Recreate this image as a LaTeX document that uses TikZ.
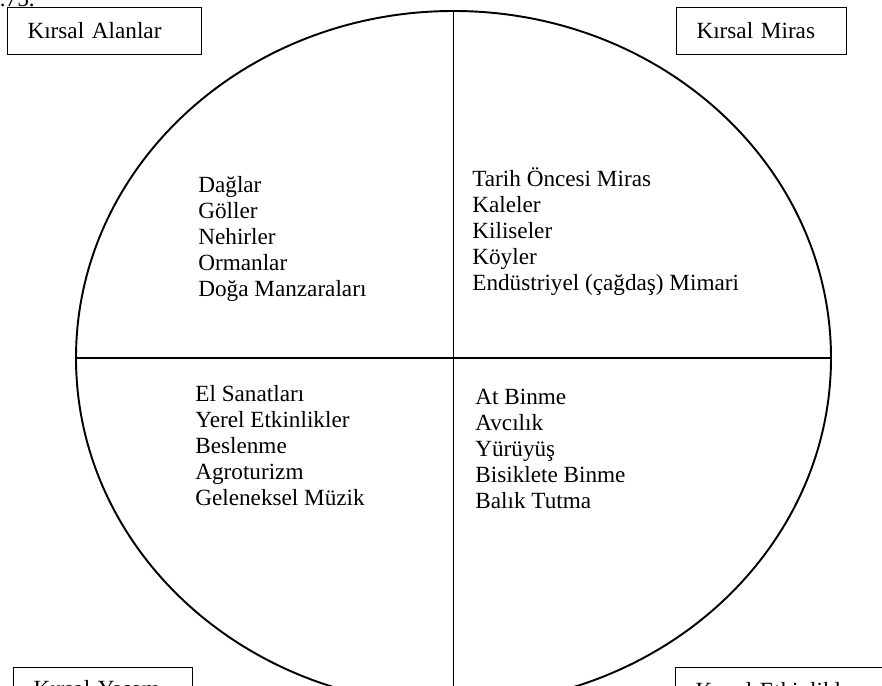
\documentclass[tikz,border=0pt]{standalone}
\usepackage{fontspec}
\setmainfont{Liberation Serif}
\usetikzlibrary{shapes.geometric,positioning}

\begin{document}
\begin{tikzpicture}[
  every node/.style={font=\fontsize{13.2}{14.8}\selectfont},
  labelbox/.style={draw, line width=0.6pt, anchor=north west, align=left,
    inner xsep=0.4cm, inner ysep=0pt, minimum height=0.94cm},
  itemlist/.style={anchor=base west, align=left, inner sep=0pt}
]
\clip (0,0) rectangle (17.64,13.72);

% Cut-off line of the text above
\node[anchor=base east, inner sep=0pt] (kaynak) at (0.70,13.58) {.75.};

% Ellipse split into four parts
\node[draw, ellipse, line width=1.1pt, outer sep=0pt,
  minimum width=15.1cm, minimum height=13.88cm] (ring) at (9.07,6.56) {};
\draw[line width=0.7pt] (ring.north) -- (ring.south);
\draw[line width=0.7pt] (ring.west) -- (ring.east);

% Corner boxes
\node[labelbox, text width=3.08cm] (alanlar) at (0.14,13.58) {Kırsal Alanlar};
\node[labelbox, text width=2.60cm] (miras) at (13.52,13.58) {Kırsal Miras};
\node[labelbox, text width=2.78cm] (yasam) at (0.26,0.38) {Kırsal Yaşam};
\node[labelbox, text width=4.20cm] (etkinlik) at (13.50,0.38) {Kırsal Etkinlikler};

% Items in each quarter (anchored on the last line)
\node[itemlist] (doga) at (3.96,7.79)
  {Dağlar\\Göller\\Nehirler\\Ormanlar\\Doğa Manzaraları};
\node[itemlist] (yapi) at (9.44,7.91)
  {Tarih Öncesi Miras\\Kaleler\\Kiliseler\\Köyler\\Endüstriyel (çağdaş) Mimari};
\node[itemlist] (kultur) at (3.90,3.61)
  {El Sanatları\\Yerel Etkinlikler\\Beslenme\\Agroturizm\\Geleneksel Müzik};
\node[itemlist] (spor) at (9.50,3.54)
  {At Binme\\Avcılık\\Yürüyüş\\Bisiklete Binme\\Balık Tutma};
\end{tikzpicture}
\end{document}
